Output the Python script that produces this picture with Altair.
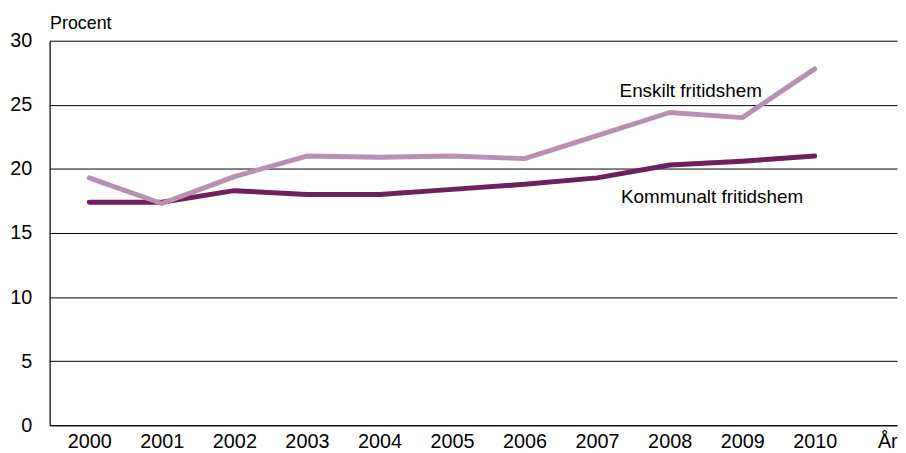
import altair as alt
import pandas as pd

years = [2000, 2001, 2002, 2003, 2004, 2005, 2006, 2007, 2008, 2009, 2010]
kommunalt = [17.4, 17.4, 18.3, 18.0, 18.0, 18.4, 18.8, 19.3, 20.3, 20.6, 21.0]
enskilt = [19.3, 17.3, 19.4, 21.0, 20.9, 21.0, 20.8, 22.6, 24.4, 24.0, 27.8]

series_names = ["Kommunalt fritidshem", "Enskilt fritidshem"]
series_colors = ["#6d1f60", "#b890b2"]

label_text = ["Enskilt fritidshem", "Kommunalt fritidshem"]
label_year = [2007.31, 2007.33]
label_value = [26.1, 17.8]

rows = []
for name, vals in zip(series_names, [kommunalt, enskilt]):
    for y, v in zip(years, vals):
        rows.append({"year": y, "value": v, "series": name})
df = pd.DataFrame(rows)
labels_df = pd.DataFrame({"text": label_text, "year": label_year, "value": label_value})

FONT = "Liberation Sans"

x_scale = alt.Scale(domain=[1999.4536, 2011.134], nice=False, zero=False)
y_scale = alt.Scale(domain=[0, 30], nice=False)

lines = alt.Chart(df).mark_line(strokeWidth=5, strokeCap="round", strokeJoin="round").encode(
    x=alt.X("year:Q", scale=x_scale,
            axis=alt.Axis(values=years + [2011], title=None, grid=False, ticks=False,
                          domainColor="#000000", domainWidth=1.2,
                          labelExpr="datum.value == 2011 ? 'År' : datum.value",
                          labelFontSize=20, labelFont=FONT, labelColor="#000000",
                          labelPadding=6, labelFlush=False, labelOverlap=False)),
    y=alt.Y("value:Q", scale=y_scale,
            axis=alt.Axis(values=[0, 5, 10, 15, 20, 25, 30], title="Procent",
                          titleAngle=0, titleAlign="left", titleBaseline="alphabetic",
                          titleX=0, titleY=-12, titleFont=FONT, titleFontSize=18,
                          titleFontWeight="normal", titleColor="#000000",
                          grid=True, gridColor="#000000", gridWidth=1, ticks=False,
                          domainColor="#000000", domainWidth=1.2,
                          labelFontSize=20, labelFont=FONT, labelColor="#000000",
                          labelPadding=18)),
    color=alt.Color("series:N", scale=alt.Scale(domain=series_names, range=series_colors), legend=None),
)

texts = alt.Chart(labels_df).mark_text(align="left", baseline="middle", fontSize=19, font=FONT, color="#000000").encode(
    x=alt.X("year:Q", scale=x_scale),
    y=alt.Y("value:Q", scale=y_scale),
    text="text:N",
)

chart = alt.layer(lines, texts).properties(
    width=855, height=388,
    autosize=alt.AutoSizeParams(type="none"),
    padding={"left": 42, "top": 31, "right": 1, "bottom": 26},
).configure_view(stroke=None).configure_axis(labelFontWeight="normal")

chart.save("out.html", embed_options={"renderer": "svg", "actions": False})
